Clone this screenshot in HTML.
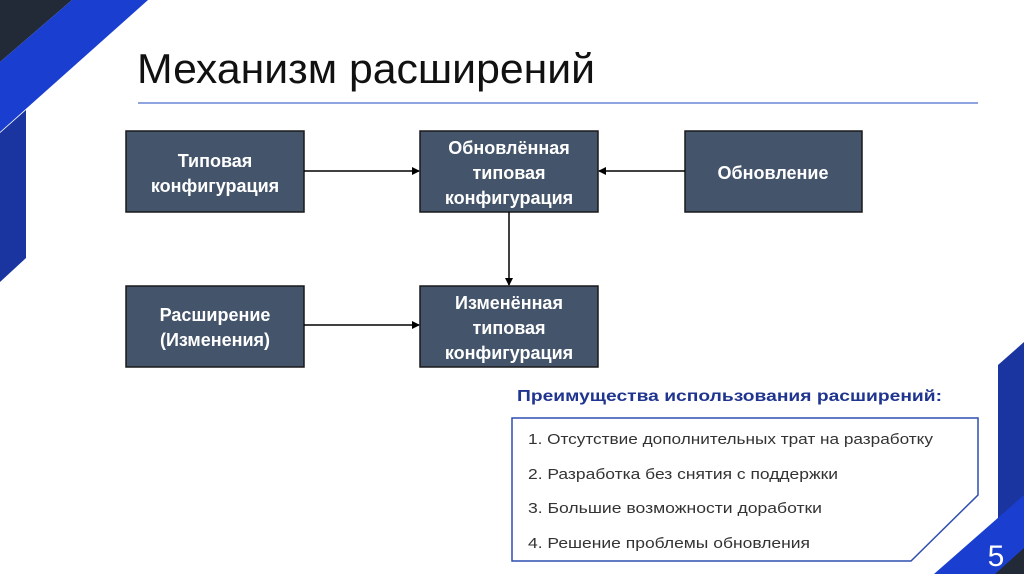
<!DOCTYPE html>
<html><head><meta charset="utf-8"><style>
html,body{margin:0;padding:0;background:#fff;}
svg{display:block;}
</style></head><body>
<svg width="1024" height="574" viewBox="0 0 1024 574" xmlns="http://www.w3.org/2000/svg" font-family="Liberation Sans, sans-serif">
<defs>
<marker id="ar" markerWidth="8" markerHeight="8" refX="7" refY="4" orient="auto" markerUnits="userSpaceOnUse">
<path d="M0,0 L8,4 L0,8 z" fill="#000"/></marker>
</defs>
<polygon points="0,0 72,0 0,62" fill="#222a38"/>
<polygon points="72,0 148,0 0,132 0,62" fill="#1a3fd0"/>
<polygon points="26,110 26,258 0,282 0,133" fill="#1a34a0"/>
<polygon points="998,365 1024,342 1024,574 998,574" fill="#1a34a0"/>
<polygon points="934,574 1024,495 1024,574" fill="#1a3fd0"/>
<polygon points="995,574 1024,548 1024,574" fill="#222a38"/>
<text x="996" y="566" font-size="30" fill="#fff" text-anchor="middle">5</text>
<text x="137" y="83" font-size="42" fill="#111" textLength="458" lengthAdjust="spacingAndGlyphs">Механизм расширений</text>
<line x1="138" y1="103" x2="978" y2="103" stroke="#4a6fd0" stroke-width="1.3"/>
<g fill="#44546a" stroke="#1a1a1a" stroke-width="1.5">
<rect x="126" y="131" width="178" height="81"/>
<rect x="420" y="131" width="178" height="81"/>
<rect x="685" y="131" width="177" height="81"/>
<rect x="126" y="286" width="178" height="81"/>
<rect x="420" y="286" width="178" height="81"/>
</g>
<g fill="#fff" font-size="18" font-weight="bold" text-anchor="middle">
<text x="215" y="167">Типовая</text>
<text x="215" y="192">конфигурация</text>
<text x="509" y="154">Обновлённая</text>
<text x="509" y="179">типовая</text>
<text x="509" y="204">конфигурация</text>
<text x="773" y="179">Обновление</text>
<text x="215" y="321">Расширение</text>
<text x="215" y="346">(Изменения)</text>
<text x="509" y="309">Изменённая</text>
<text x="509" y="334">типовая</text>
<text x="509" y="359">конфигурация</text>
</g>
<g stroke="#000" stroke-width="1.5">
<line x1="304" y1="171" x2="419" y2="171" marker-end="url(#ar)"/>
<line x1="685" y1="171" x2="599" y2="171" marker-end="url(#ar)"/>
<line x1="509" y1="212" x2="509" y2="285" marker-end="url(#ar)"/>
<line x1="304" y1="325" x2="419" y2="325" marker-end="url(#ar)"/>
</g>
<text x="517" y="401" font-size="16" font-weight="bold" fill="#1f3590" textLength="425" lengthAdjust="spacingAndGlyphs">Преимущества использования расширений:</text>
<polygon points="512,418 978,418 978,495 911,561 512,561" fill="#fff" stroke="#2f4fb0" stroke-width="1.5"/>
<g font-size="15" fill="#333">
<text x="528" y="444" textLength="405" lengthAdjust="spacingAndGlyphs">1. Отсутствие дополнительных трат на разработку</text>
<text x="528" y="479" textLength="310" lengthAdjust="spacingAndGlyphs">2. Разработка без снятия с поддержки</text>
<text x="528" y="513" textLength="294" lengthAdjust="spacingAndGlyphs">3. Большие возможности доработки</text>
<text x="528" y="548" textLength="282" lengthAdjust="spacingAndGlyphs">4. Решение проблемы обновления</text>
</g>
</svg>
</body></html>
